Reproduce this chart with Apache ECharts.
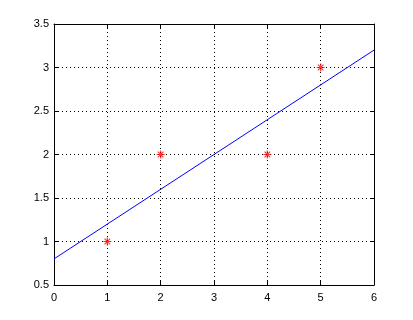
<!DOCTYPE html>
<html><head><meta charset="utf-8">
<script src="https://cdn.jsdelivr.net/npm/echarts@6/dist/echarts.min.js"></script>
<style>html,body{margin:0;padding:0;background:#fff}#c{width:413px;height:320px}</style>
</head><body><div id="c"></div>
<script>
var pointX = [1, 2, 4, 5];
var pointY = [1, 2, 2, 3];
var lineX = [0, 6];
var lineY = [0.8, 3.2];
var xTicks = [0, 1, 2, 3, 4, 5, 6];
var yTicks = [0.5, 1, 1.5, 2, 2.5, 3, 3.5];

var star = 'path://M-0.6,-4 L0.6,-4 L0.6,4 L-0.6,4 Z M-4,-0.6 L4,-0.6 L4,0.6 L-4,0.6 Z M-3.2,-2.4 L-2.4,-3.2 L3.2,2.4 L2.4,3.2 Z M2.4,-3.2 L3.2,-2.4 L-2.4,3.2 L-3.2,2.4 Z';

var font = {color:'#000', fontFamily:'Liberation Sans', fontSize:11};
function axisBase(pos, isX, show){
  return {
    type:'value', position:pos,
    min: isX ? xTicks[0] : yTicks[0],
    max: isX ? xTicks[xTicks.length-1] : yTicks[yTicks.length-1],
    interval: isX ? 1 : 0.5,
    axisLine:{show:true, onZero:false, lineStyle:{color:'#000', width:1}},
    axisTick:{show:true, inside:true, length:4, lineStyle:{color:'#000'}},
    axisLabel: Object.assign({show:show, margin: isX ? 7 : 5}, font),
    splitLine:{show:show, lineStyle:{color:'#000', type:[1,3], width:1}}
  };
}
var chart = echarts.init(document.getElementById('c'));
chart.setOption({
  backgroundColor:'#fff',
  animation:false,
  grid:{left:54, top:24, right:39, bottom:35},
  xAxis:[axisBase('bottom', true, true), axisBase('top', true, false)],
  yAxis:[axisBase('left', false, true), axisBase('right', false, false)],
  series:[
    {type:'line', data:lineX.map(function(x,i){return [x, lineY[i]];}),
     showSymbol:false, lineStyle:{color:'#0000ff', width:1}},
    {type:'scatter', data:pointX.map(function(x,i){return [x, pointY[i]];}),
     symbol:star, symbolSize:8, itemStyle:{color:'#ff0000'}}
  ]
});
</script></body></html>
